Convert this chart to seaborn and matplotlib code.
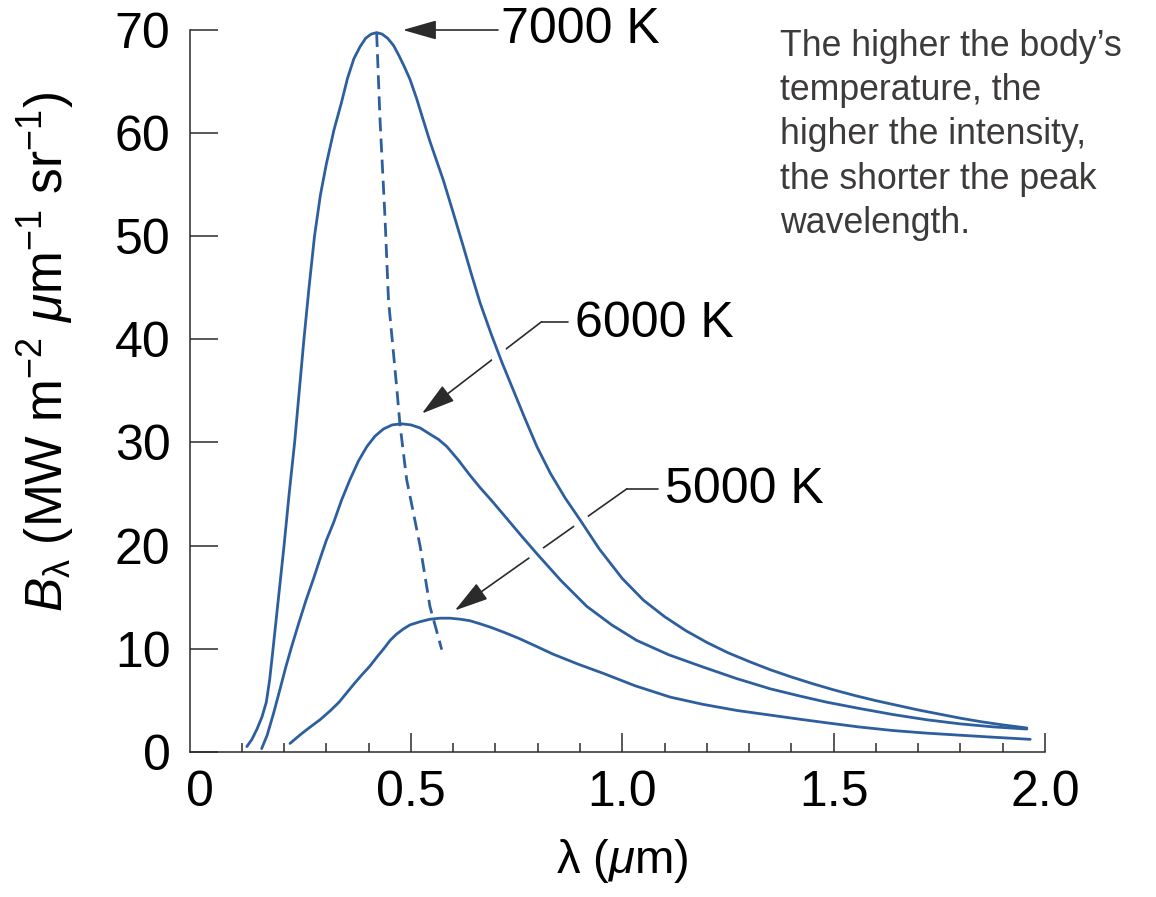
import matplotlib
matplotlib.use("Agg")
import matplotlib.pyplot as plt
import matplotlib.ticker as mticker
import pandas as pd
import seaborn as sns

# Spectral radiance B_lambda (MW m^-2 um^-1 sr^-1) versus wavelength (um)
wl_7000 = [0.112, 0.124, 0.136, 0.148, 0.158, 0.166, 0.174, 0.187, 0.200, 0.212,
           0.225, 0.236, 0.247, 0.259, 0.272, 0.286, 0.300, 0.318, 0.336, 0.350,
           0.365, 0.380, 0.393, 0.406, 0.419, 0.432, 0.445, 0.459, 0.472, 0.485,
           0.498, 0.514, 0.529, 0.545, 0.561, 0.577, 0.600, 0.624, 0.644, 0.664,
           0.690, 0.715, 0.742, 0.770, 0.798, 0.830, 0.865, 0.900, 0.945, 1.000,
           1.050, 1.100, 1.150, 1.200, 1.250, 1.300, 1.350, 1.400, 1.450, 1.500,
           1.550, 1.600, 1.650, 1.700, 1.750, 1.800, 1.850, 1.900, 1.957]
b_7000 = [0.5, 1.2, 2.2, 3.4, 4.8, 7.0, 10.0, 15.0, 20.0, 25.0,
          30.0, 35.0, 40.0, 45.0, 50.0, 54.0, 57.0, 60.3, 63.0, 65.3,
          67.2, 68.4, 69.2, 69.6, 69.75, 69.6, 69.2, 68.5, 67.5, 66.4,
          65.2, 63.3, 61.3, 59.2, 57.3, 55.4, 52.3, 49.0, 46.2, 43.5,
          40.5, 37.8, 35.1, 32.3, 29.6, 27.0, 24.6, 22.5, 19.7, 16.8,
          14.7, 13.1, 11.75, 10.6, 9.6, 8.75, 7.95, 7.25, 6.6, 6.0,
          5.45, 4.95, 4.5, 4.05, 3.65, 3.25, 2.9, 2.6, 2.3]

wl_6000 = [0.147, 0.160, 0.175, 0.190, 0.204, 0.218, 0.235, 0.252, 0.269, 0.285,
           0.300, 0.317, 0.336, 0.356, 0.376, 0.396, 0.415, 0.435, 0.456, 0.478,
           0.500, 0.522, 0.545, 0.565, 0.585, 0.612, 0.640, 0.664, 0.690, 0.719,
           0.758, 0.798, 0.855, 0.916, 0.975, 1.034, 1.110, 1.192, 1.270, 1.350,
           1.420, 1.484, 1.560, 1.641, 1.720, 1.799, 1.880, 1.957]
b_6000 = [0.3, 1.6, 3.7, 6.0, 8.2, 10.2, 12.5, 14.7, 16.7, 18.7,
          20.5, 22.2, 24.4, 26.4, 28.2, 29.6, 30.6, 31.3, 31.7, 31.8,
          31.7, 31.4, 30.8, 30.3, 29.6, 28.3, 26.8, 25.6, 24.4, 23.0,
          21.1, 19.2, 16.6, 14.1, 12.3, 10.8, 9.4, 8.2, 7.1, 6.1,
          5.4, 4.8, 4.2, 3.6, 3.1, 2.7, 2.4, 2.2]

wl_5000 = [0.214, 0.240, 0.262, 0.285, 0.310, 0.330, 0.348, 0.366, 0.385, 0.403,
           0.420, 0.436, 0.451, 0.466, 0.482, 0.498, 0.521, 0.545, 0.569, 0.593,
           0.617, 0.640, 0.664, 0.690, 0.719, 0.755, 0.795, 0.837, 0.895, 0.955,
           1.030, 1.113, 1.190, 1.271, 1.350, 1.420, 1.484, 1.560, 1.641, 1.720,
           1.799, 1.880, 1.965]
b_5000 = [0.8, 1.7, 2.4, 3.1, 4.0, 4.8, 5.7, 6.6, 7.5, 8.3,
          9.2, 10.0, 10.8, 11.4, 11.9, 12.3, 12.6, 12.85, 12.95, 12.95,
          12.85, 12.7, 12.4, 12.05, 11.6, 11.0, 10.25, 9.45, 8.5, 7.6,
          6.4, 5.3, 4.6, 4.0, 3.55, 3.15, 2.8, 2.4, 2.05, 1.8,
          1.6, 1.4, 1.2]

# Locus of the peaks (Wien displacement)
wien_wl = [0.419, 0.427, 0.439, 0.447, 0.467, 0.474, 0.490, 0.522, 0.545, 0.573]
wien_b = [69.7, 61.3, 51.6, 43.8, 35.1, 31.8, 26.4, 19.9, 14.1, 9.9]

temperatures = ["7000 K", "6000 K", "5000 K"]
x_ticks = [0, 0.5, 1.0, 1.5, 2.0]
x_tick_labels = ["0", "0.5", "1.0", "1.5", "2.0"]
y_ticks = [0, 10, 20, 30, 40, 50, 60, 70]

note = ("The higher the body\u2019s\ntemperature, the\nhigher the intensity,\n"
        "the shorter the peak\nwavelength.")

curves = pd.concat([
    pd.DataFrame({"wavelength": wl, "radiance": b, "T": t})
    for wl, b, t in zip([wl_7000, wl_6000, wl_5000],
                        [b_7000, b_6000, b_5000], temperatures)
], ignore_index=True)
wien = pd.DataFrame({"wavelength": wien_wl, "radiance": wien_b})

sns.set_theme(style="ticks")
plt.rcParams["font.family"] = ["Liberation Sans", "DejaVu Sans"]
plt.rcParams["mathtext.fontset"] = "custom"
plt.rcParams["mathtext.rm"] = "Liberation Sans"
plt.rcParams["mathtext.it"] = "Liberation Sans:italic"
plt.rcParams["mathtext.bf"] = "Liberation Sans:bold"
plt.rcParams["lines.solid_capstyle"] = "round"
plt.rcParams["lines.solid_joinstyle"] = "round"

BLUE = "#2d5f9e"
INK = "#2b2b2b"
FS = 36

fig = plt.figure(figsize=(11.56, 8.97), dpi=100)
ax = fig.add_axes([190 / 1156, 1 - 751.7 / 897, (1045 - 190) / 1156, (751.7 - 30) / 897])
ax.set_axisbelow(False)

# white casing first so leader lines appear broken where curves cross them
for t in temperatures:
    sns.lineplot(data=curves[curves["T"] == t], x="wavelength", y="radiance",
                 sort=False, estimator=None, color="white", lw=12,
                 zorder=2.1, ax=ax, legend=False)
for t in temperatures:
    sns.lineplot(data=curves[curves["T"] == t], x="wavelength", y="radiance",
                 sort=False, estimator=None, color=BLUE, lw=2.0,
                 zorder=2.2, ax=ax, legend=False)
sns.lineplot(data=wien, x="wavelength", y="radiance", sort=False, estimator=None,
             color=BLUE, lw=2.0, dashes=(5, 2.6), zorder=2.3, ax=ax, legend=False)

# labels with leader arrows
arrow_kw = dict(arrowstyle="-|>,head_length=1.05,head_width=0.3",
                color=INK, lw=1.2, shrinkA=0, shrinkB=0, mutation_scale=20)
ax.annotate("", xy=(0.481, 70.0), xytext=(0.706, 70.0),
            arrowprops=arrow_kw, annotation_clip=False, zorder=2.0)
ax.text(0.712, 70.0, temperatures[0], fontsize=FS, ha="left", va="center",
        color="black", clip_on=False)

ax.plot([0.809, 0.872], [41.7, 41.7], color=INK, lw=1.2, zorder=2.0)
ax.annotate("", xy=(0.526, 32.8), xytext=(0.809, 41.7),
            arrowprops=arrow_kw, zorder=2.0)
ax.text(0.889, 41.5, temperatures[1], fontsize=FS, ha="left", va="center",
        color="black")

ax.plot([1.011, 1.084], [25.5, 25.5], color=INK, lw=1.2, zorder=2.0)
ax.annotate("", xy=(0.604, 13.7), xytext=(1.011, 25.5),
            arrowprops=arrow_kw, zorder=2.0)
ax.text(1.101, 25.4, temperatures[2], fontsize=FS, ha="left", va="center",
        color="black")

# axes
ax.set_xlim(-0.0225, 2.0)
ax.set_ylim(0, 70)
ax.set_xticks(x_ticks)
ax.set_xticklabels(x_tick_labels)
ax.xaxis.set_minor_locator(mticker.MultipleLocator(0.1))
ax.set_yticks(y_ticks)
ax.tick_params(axis="both", which="both", direction="in", colors=INK,
               labelcolor="black", labelsize=FS, width=1.1)
ax.tick_params(axis="x", which="major", length=13.5, pad=13)
ax.tick_params(axis="x", which="minor", length=6.5)
ax.tick_params(axis="y", which="major", length=20, pad=14)
ax.xaxis.get_major_ticks()[0].tick1line.set_visible(False)
for side in ("top", "right"):
    ax.spines[side].set_visible(False)
for side in ("left", "bottom"):
    ax.spines[side].set_color(INK)
    ax.spines[side].set_linewidth(1.1)

ax.set_xlabel("\u03bb ($\\mu$m)", fontsize=34, color="black")
ax.set_ylabel("$B_{\\mathrm{\u03bb}}$ (MW m$^{\u22122}$ $\\mu$m$^{\u22121}$ sr$^{\u22121}$)",
              fontsize=37, color="black")
ax.xaxis.set_label_coords(0.506, -0.118)
ax.yaxis.set_label_coords(-0.133, 0.554)

fig.text(780 / 1156, 1 - 29 / 897, note, fontsize=25.7, color="#3d3a3a",
         ha="left", va="top", linespacing=1.34)

fig.savefig("out.png", dpi=100, facecolor="white")
